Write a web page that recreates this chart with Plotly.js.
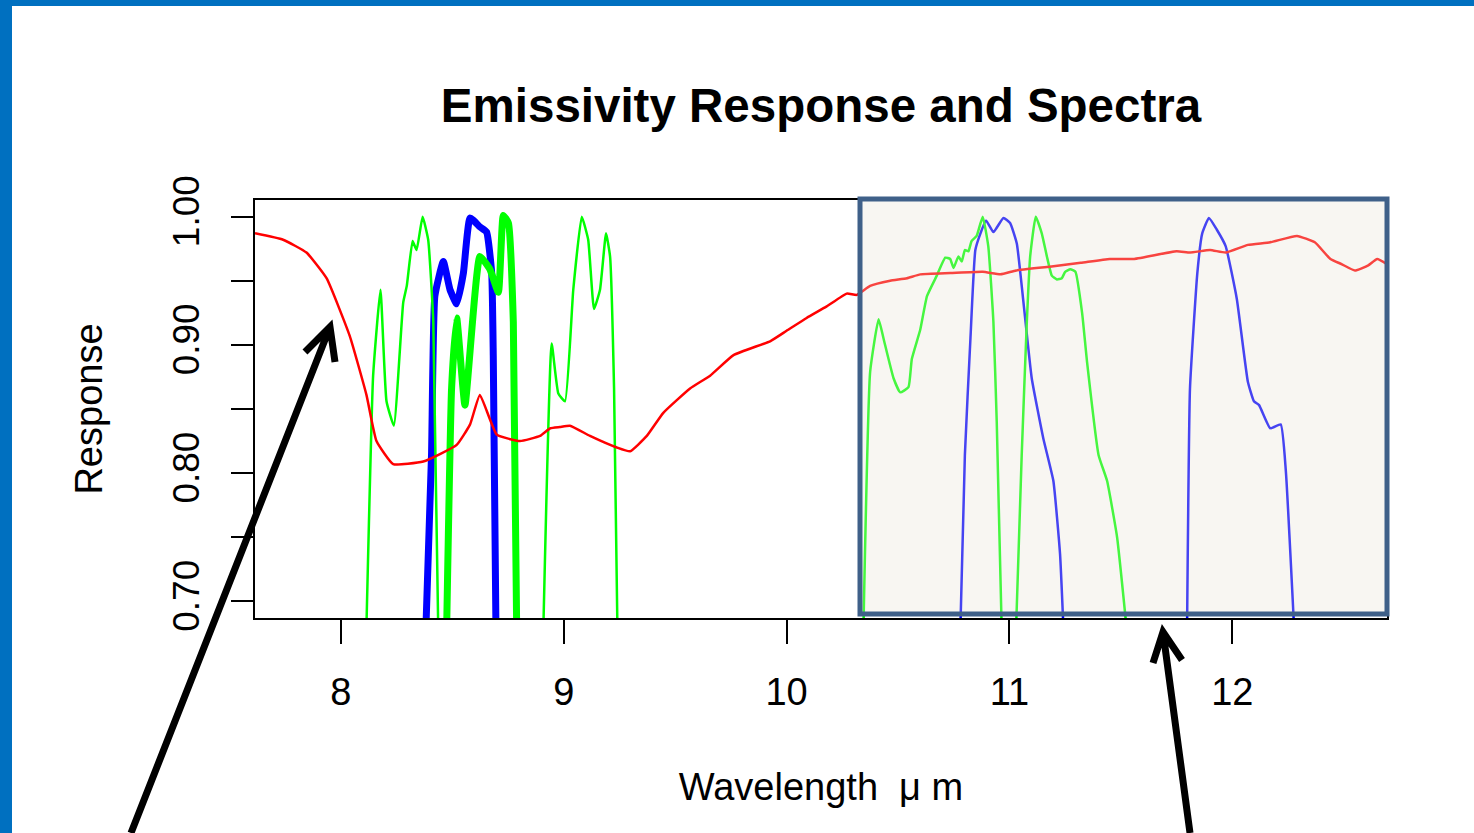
<!DOCTYPE html>
<html>
<head>
<meta charset="utf-8">
<script src="https://cdn.plot.ly/plotly-3.0.1.min.js"></script>
<style>
html,body{margin:0;padding:0;background:#fff;}
#chart{width:1474px;height:833px;}
</style>
</head>
<body>
<div id="chart"></div>
<script>
// Emissivity spectrum (red)
const emisWave = [7.615,7.741,7.846,7.936,8.04,8.115,8.16,8.235,8.37,8.52,8.58,8.624,8.70,8.804,8.894,8.94,8.983,9.028,9.118,9.238,9.298,9.373,9.447,9.567,9.657,9.762,9.928,10.0,10.09,10.18,10.27,10.315,10.375,10.465,10.54,10.6,10.735,10.88,10.96,11.03,11.18,11.32,11.45,11.56,11.75,11.81,11.90,11.97,12.07,12.17,12.29,12.37,12.44,12.49,12.55,12.61,12.65,12.694];
const emisVal  = [0.987,0.982,0.972,0.952,0.907,0.861,0.825,0.807,0.809,0.822,0.838,0.861,0.830,0.825,0.829,0.835,0.836,0.837,0.829,0.820,0.817,0.829,0.847,0.866,0.876,0.892,0.903,0.911,0.921,0.930,0.940,0.939,0.946,0.950,0.952,0.955,0.956,0.957,0.955,0.958,0.961,0.964,0.967,0.967,0.973,0.972,0.974,0.972,0.978,0.980,0.985,0.980,0.967,0.963,0.958,0.962,0.967,0.963];

// Spectral response bands, thick (blue / green)
const band1Wave = [8.382,8.407,8.422,8.46,8.49,8.52,8.55,8.58,8.624,8.654,8.677,8.684,8.696];
const band1Val  = [0.68,0.814,0.938,0.965,0.943,0.932,0.956,0.999,0.992,0.988,0.956,0.892,0.68];
const band2Wave = [8.475,8.497,8.52,8.557,8.624,8.669,8.707,8.729,8.752,8.774,8.789];
const band2Val  = [0.68,0.866,0.921,0.853,0.969,0.959,0.941,1.001,0.995,0.918,0.68];

// Spectral response bands, thin green
const green1Wave = [8.115,8.145,8.178,8.205,8.238,8.28,8.296,8.322,8.34,8.367,8.392,8.415,8.437];
const green1Val  = [0.68,0.876,0.943,0.856,0.837,0.933,0.946,0.981,0.974,1.0,0.982,0.918,0.68];
const green2Wave = [8.909,8.946,8.976,9.006,9.043,9.081,9.11,9.136,9.163,9.19,9.208,9.226,9.241];
const green2Val  = [0.68,0.901,0.862,0.856,0.943,1.0,0.982,0.928,0.943,0.987,0.969,0.866,0.68];
const green3Wave = [10.345,10.375,10.413,10.435,10.48,10.51,10.547,10.562,10.6,10.63,10.674,10.712,10.734,10.749,10.771,10.786,10.80,10.816,10.83,10.853,10.88,10.905,10.928,10.943,10.965];
const green3Val  = [0.68,0.879,0.920,0.905,0.874,0.863,0.867,0.889,0.912,0.938,0.954,0.968,0.967,0.960,0.969,0.965,0.974,0.973,0.981,0.985,1.0,0.977,0.918,0.840,0.68];
const green4Wave = [11.03,11.055,11.078,11.093,11.118,11.145,11.168,11.19,11.213,11.235,11.25,11.273,11.296,11.326,11.348,11.40,11.438,11.483,11.525];
const green4Val  = [0.68,0.814,0.918,0.969,1.0,0.987,0.969,0.954,0.951,0.952,0.957,0.959,0.957,0.925,0.887,0.814,0.794,0.750,0.68];

// Spectral response bands, thin blue
const blue1Wave = [10.78,10.80,10.825,10.847,10.87,10.895,10.928,10.973,11.003,11.033,11.063,11.10,11.152,11.197,11.227,11.242];
const blue1Val  = [0.68,0.814,0.905,0.974,0.987,0.997,0.988,0.999,0.995,0.979,0.933,0.874,0.827,0.794,0.737,0.68];
const blue2Wave = [11.797,11.81,11.843,11.865,11.895,11.93,11.97,12.02,12.07,12.097,12.12,12.17,12.217,12.24,12.277];
const blue2Val  = [0.68,0.866,0.956,0.987,0.999,0.990,0.977,0.936,0.871,0.856,0.853,0.835,0.838,0.802,0.68];

const xTicks = [8,9,10,11,12];
const yTicks = [0.70,0.75,0.80,0.85,0.90,0.95,1.00];
const yTickText = ['0.70','','0.80','','0.90','','1.00'];

const FONT = 'Liberation Sans, Arial, Helvetica, sans-serif';

function tr(x, y, color, width) {
  return {x: x, y: y, type: 'scatter', mode: 'lines',
          line: {color: color, width: width, shape: 'spline', smoothing: 0.4},
          hoverinfo: 'skip', showlegend: false};
}

const data = [
  tr(band1Wave, band1Val, '#0000ff', 7),
  tr(band2Wave, band2Val, '#00ff00', 7),
  tr(blue1Wave, blue1Val, '#0000ff', 2.5),
  tr(blue2Wave, blue2Val, '#0000ff', 2.5),
  tr(green1Wave, green1Val, '#00ff00', 2.5),
  tr(green2Wave, green2Val, '#00ff00', 2.5),
  tr(green3Wave, green3Val, '#00ff00', 2.5),
  tr(green4Wave, green4Val, '#00ff00', 2.5),
  tr(emisWave, emisVal, '#ff0000', 2.5)
];

// plot area: left 255, right 1387, top 200, bottom 618 (px)
const L = 255, R = 1387, T = 200, B = 618;
const px = v => (v - L) / (R - L);
const py = v => (B - v) / (B - T);

const arrow1 = `M ${px(131)} ${py(833)} L ${px(330)} ${py(327)} M ${px(305)} ${py(352)} L ${px(330)} ${py(327)} L ${px(335)} ${py(362)}`;
const arrow2 = `M ${px(1190)} ${py(833)} L ${px(1163)} ${py(632)} M ${px(1153)} ${py(663)} L ${px(1163)} ${py(632)} L ${px(1182)} ${py(660)}`;

const layout = {
  width: 1474, height: 833,
  paper_bgcolor: '#ffffff', plot_bgcolor: '#ffffff',
  margin: {l: L, r: 1474 - R, t: T, b: 833 - B, pad: 0},
  font: {family: FONT, color: '#000'},
  title: {text: '<b>Emissivity Response and Spectra</b>', font: {family: FONT, size: 47.5, color: '#000'},
          x: 0.5, xref: 'paper', y: 1 - 105/833, yref: 'container', yanchor: 'middle'},
  xaxis: {range: [7.615, 12.694], tickvals: xTicks, ticktext: xTicks.map(String),
          ticks: 'outside', ticklen: 24, tickwidth: 2, tickcolor: '#000',
          showline: true, linecolor: '#000', linewidth: 2, mirror: true,
          showgrid: false, zeroline: false, tickfont: {family: FONT, size: 38, color: '#000'},
          ticklabelstandoff: 15,
          title: {text: 'Wavelength  μ m', font: {family: FONT, size: 38, color: '#000'}, standoff: 62},
          automargin: false},
  yaxis: {range: [0.687, 1.013], tickvals: yTicks, ticktext: yTickText,
          ticks: 'outside', ticklen: 22, tickwidth: 2, tickcolor: '#000',
          showline: true, linecolor: '#000', linewidth: 2, mirror: true,
          showgrid: false, zeroline: false, tickangle: -90,
          tickfont: {family: FONT, size: 37, color: '#000'},
          ticklabelstandoff: 17,
          title: {text: 'Response', font: {family: FONT, size: 38, color: '#000'}, standoff: 52},
          automargin: false},
  shapes: [
    {type: 'rect', xref: 'paper', yref: 'paper', x0: px(860), x1: px(1387), y0: py(614), y1: py(199),
     fillcolor: 'rgba(232,226,212,0.3)', line: {color: '#3f6089', width: 5}, layer: 'above'},
    {type: 'path', xref: 'paper', yref: 'paper', path: arrow1, line: {color: '#000', width: 7}, layer: 'above'},
    {type: 'path', xref: 'paper', yref: 'paper', path: arrow2, line: {color: '#000', width: 7}, layer: 'above'},
    {type: 'rect', xref: 'paper', yref: 'paper', x0: px(0), x1: px(12), y0: py(833), y1: py(0),
     fillcolor: '#0070c0', line: {width: 0}, layer: 'above'},
    {type: 'rect', xref: 'paper', yref: 'paper', x0: px(0), x1: px(1474), y0: py(6), y1: py(0),
     fillcolor: '#0070c0', line: {width: 0}, layer: 'above'}
  ]
};

Plotly.newPlot('chart', data, layout, {displayModeBar: false, staticPlot: true});
</script>
</body>
</html>
